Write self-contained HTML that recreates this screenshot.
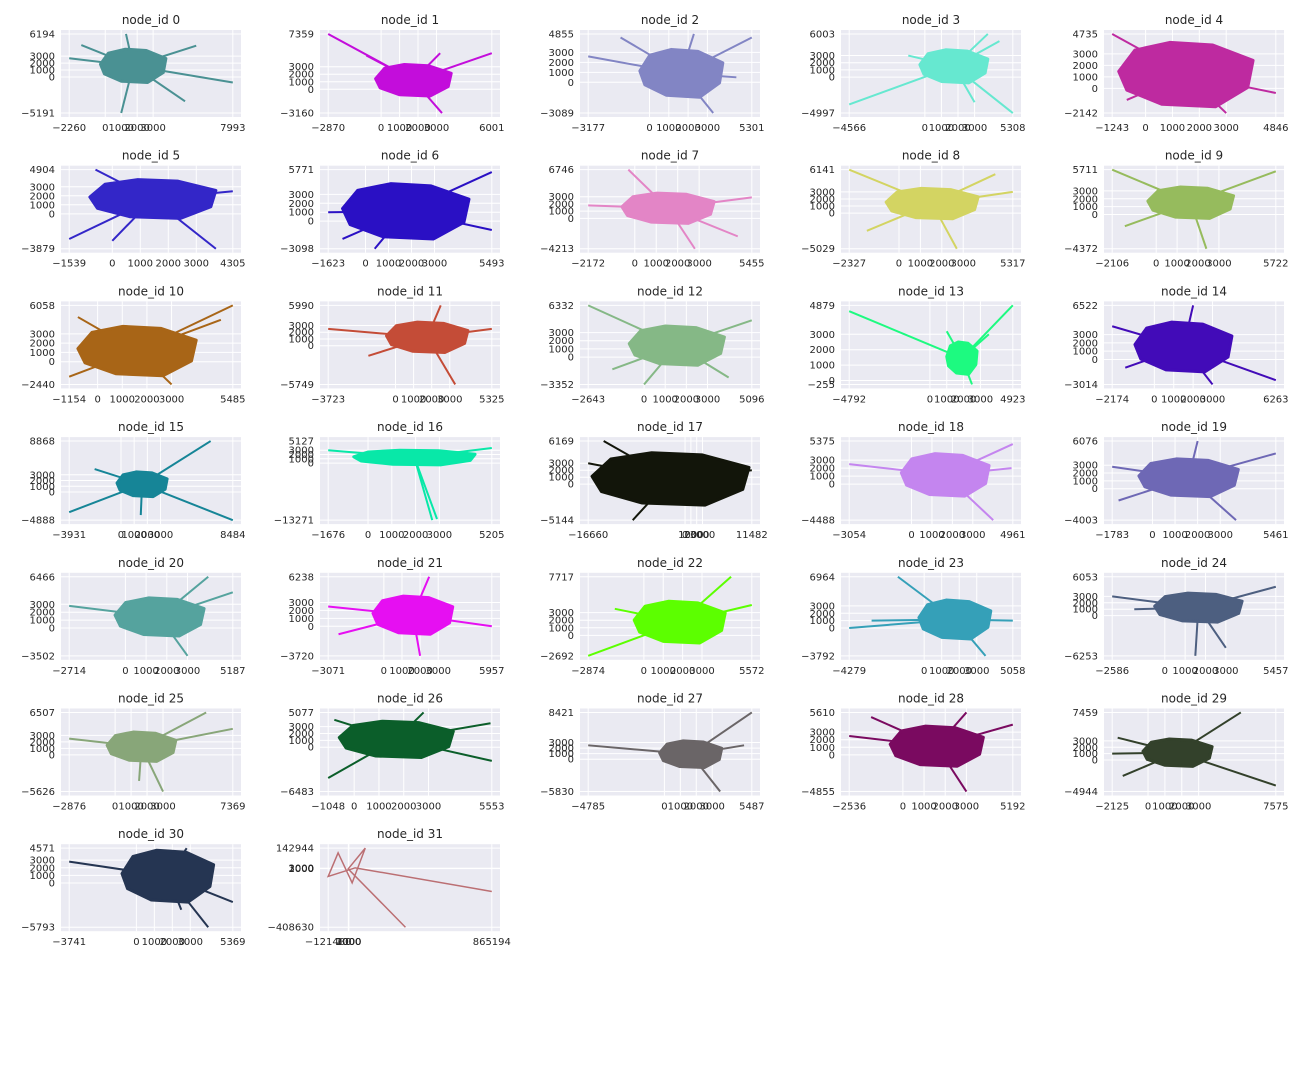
<!DOCTYPE html>
<html><head><meta charset="utf-8">
<style>
body{margin:0;background:#fff;width:1296px;height:1080px;overflow:hidden;font-family:"Liberation Sans","DejaVu Sans",sans-serif;}
svg text{font-family:"DejaVu Sans","Liberation Sans",sans-serif;fill:#262626;}
</style></head>
<body>
<svg id="fig" width="1296" height="1080" viewBox="0 0 1296 1080" xmlns="http://www.w3.org/2000/svg"></svg>
<script>
// ---- data arrays (top level) ----
const nodeIds = [0,1,2,3,4,5,6,7,8,9,10,11,12,13,14,15,16,17,18,19,20,21,22,23,24,25,26,27,28,29,30,31];
const xMins = [-2260,-2870,-3177,-4566,-1243,-1539,-1623,-2172,-2327,-2106,-1154,-3723,-2643,-4792,-2174,-3931,-1676,-16660,-3054,-1783,-2714,-3071,-2874,-4279,-2586,-2876,-1048,-4785,-2536,-2125,-3741,-121480];
const xMaxs = [7993,6001,5301,5308,4846,4305,5493,5455,5317,5722,5485,5325,5096,4923,6263,8484,5205,11482,4961,5461,5187,5957,5572,5058,5457,7369,5553,5487,5192,7575,5369,865194];
const yMins = [-5191,-3160,-3089,-4997,-2142,-3879,-3098,-4213,-5029,-4372,-2440,-5749,-3352,-255,-3014,-4888,-13271,-5144,-4488,-4003,-3502,-3720,-2692,-3792,-6253,-5626,-6483,-5830,-4855,-4944,-5793,-408630];
const yMaxs = [6194,7359,4855,6003,4735,4904,5771,6746,6141,5711,6058,5990,6332,4879,6522,8868,5127,6169,5375,6076,6466,6238,7717,6964,6053,6507,5077,8421,5610,7459,4571,142944];
const baseTicks = [0,1000,2000,3000];
// dense-core extent per node: [x0,x1,y0,y1]
const blobs = [
 [-300,3800,-800,4000],[-300,3800,-900,3300],[-500,3800,-1500,3300],[-300,3800,-800,3800],[-1000,4000,-1600,4000],
 [-800,3700,-500,3800],[-1000,4500,-2000,4200],[-600,3700,-700,3500],[-600,3700,-800,3500],[-400,3700,-500,3500],
 [-800,4000,-1500,3800],[-500,4000,-1000,3500],[-700,3800,-1000,3800],[1000,2800,400,2500],[-1000,4000,-1500,4500],
 [-300,3500,-800,3500],[-600,4500,-400,3000],[-16000,11000,-3000,4500],[-500,3800,-1500,3800],[-600,3800,-1000,3800],
 [-500,3800,-1000,3800],[-600,3800,-1000,3800],[-500,4200,-1000,4500],[-300,3800,-1500,3800],[-500,3800,-1000,3500],
 [-500,3800,-1000,3500],[-600,4000,-1500,3800],[-300,3600,-1500,3300],[-600,3800,-1500,3800],[-300,3800,-1000,3300],
 [-800,4300,-2500,4300],[0,0,0,0]
];
// outlier endpoints per node (x,y pairs), drawn from the core centre
const spikes = [
 [[-2260,2700],[7993,-800],[1000,-5191],[1300,6194],[5700,4500],[-1500,4600],[5000,-3500]],
 [[-2870,7359],[6001,4800],[3300,-3160],[-800,4500],[3200,4800]],
 [[-3177,2600],[5301,4500],[3300,-3089],[2300,4855],[-1500,4500],[4500,500]],
 [[-4566,-3800],[5308,-4997],[3800,6003],[-1000,3000],[4500,5000],[3000,-3500]],
 [[-1243,4735],[4846,-400],[3000,-2142],[-700,-1000]],
 [[-1539,-2800],[-600,4904],[4305,2500],[3700,-3879],[0,-3000]],
 [[-1623,1000],[5493,5500],[5493,-1000],[400,-3098],[-1000,-2000]],
 [[-2172,1800],[5455,2900],[-300,6746],[2800,-4213],[4800,-2500]],
 [[-2327,6141],[5317,3000],[2700,-5029],[-1500,-2500],[4500,5500]],
 [[-2106,5711],[5722,5500],[2400,-4372],[-1500,-1500]],
 [[-1154,-1600],[5485,6058],[3000,-2440],[-800,4800],[5000,4500]],
 [[-3723,2500],[5325,2500],[3300,-5749],[2500,5990],[-1500,-1500]],
 [[-2643,6332],[5096,4500],[0,-3352],[-1500,-1500],[4000,-2500]],
 [[-4792,4500],[4923,4879],[2500,-255],[3500,3000],[1000,3200]],
 [[-2174,4000],[6263,-2500],[2000,6522],[3000,-3014],[-1500,-1000]],
 [[-3931,-3500],[8484,-4888],[6800,8868],[1500,-4000],[-2000,4000]],
 [[-1676,3000],[5205,3500],[2700,-13271],[2900,-13000]],
 [[-16660,3000],[11482,2000],[-9000,-5144],[-14000,6169]],
 [[-3054,2500],[4961,5000],[4000,-4488],[4900,2000]],
 [[-1783,2800],[5461,4500],[3700,-4003],[-1500,-1500],[2000,6076]],
 [[-2714,2800],[5187,4500],[4000,6466],[3000,-3502]],
 [[-3071,2500],[5957,0],[2500,6238],[2000,-3720],[-2500,-1000]],
 [[-2874,-2692],[5572,4000],[4500,7717],[-1500,3500]],
 [[-4279,0],[-1500,6964],[5058,1000],[3500,-3792],[-3000,1000]],
 [[-2586,3000],[5457,4500],[1500,-6253],[3000,-5000],[-1500,1000]],
 [[-2876,2500],[7369,4000],[5700,6507],[3000,-5626],[1500,-4000]],
 [[-1048,-4500],[5553,-2000],[2800,5077],[5500,3500],[-800,4000]],
 [[-4785,2500],[5487,8421],[3500,-5830],[5000,2500]],
 [[-2536,2500],[5192,4000],[3000,-4855],[3000,5610],[-1500,5000]],
 [[-2125,1000],[7575,-4000],[5500,7459],[-1800,3500],[-1500,-2500]],
 [[-3741,2800],[5369,-2500],[2500,-3500],[4000,-5793],[2800,4571]],
 []
];
// node 31: sparse polyline
const sparseX = [865194,41300,-121480,-61700,23000,102000,-1100,344300];
const sparseY = [-159000,5700,-54200,110600,-99150,142944,-1700,-408630];
// ---- styles ----
const colors = ['#4a9193','#c30ddb','#8285c4','#66e8d0','#be2aa0','#3326c8','#2a10c4','#e385c6','#d3d462','#96bb5d','#a86517','#c44c37','#85b886','#1dfa80','#420bb8','#168597','#08e8a8','#12150a','#c485ef','#6e68b5','#55a39e','#e60ff2','#5cff00','#35a0b8','#4d5f80','#88a679','#0b5e2a','#6a6567','#7a0a60','#33412b','#253552','#bb6f73'];
const colLeft = [61,320,580,841,1104];
const AW = 180, AH = 87, ROW0 = 30, PITCH = 135.7;
const blobShape = [[0,0.55],[0.12,0.88],[0.38,1],[0.7,0.96],[1,0.72],[0.96,0.3],[0.72,0],[0.32,0.04],[0.06,0.26]];

const NS = 'http://www.w3.org/2000/svg';
const fig = document.getElementById('fig');
function mk(tag, attrs, parent){const e=document.createElementNS(NS,tag);for(const k in attrs)e.setAttribute(k,attrs[k]);(parent||fig).appendChild(e);return e;}

nodeIds.forEach((id,i)=>{
  const c = i%5, r = Math.floor(i/5);
  const L = colLeft[c], T = ROW0 + r*PITCH;
  const xr = xMaxs[i]-xMins[i], yr = yMaxs[i]-yMins[i];
  const x0 = xMins[i]-0.05*xr, x1 = xMaxs[i]+0.05*xr;
  const y0 = yMins[i]-0.05*yr, y1 = yMaxs[i]+0.05*yr;
  const sx = v => L + (v-x0)/(x1-x0)*AW;
  const sy = v => T + AH - (v-y0)/(y1-y0)*AH;
  const g = mk('g',{});
  
  
  const bg = mk('rect',{x:L,y:T,width:AW,height:AH,fill:'#eaeaf2'},g);
  
  
  const xt = [xMins[i],...baseTicks,xMaxs[i]];
  const yt = [yMins[i],...baseTicks,yMaxs[i]];
  xt.forEach(v=>{
    mk('line',{x1:sx(v),x2:sx(v),y1:T,y2:T+AH,stroke:'#fff','stroke-width':1},g);
    const t = mk('text',{x:sx(v),y:T+AH+14,'font-size':10,'text-anchor':'middle'},g);
    t.textContent = String(v).replace('-','\u2212');
    
    
  });
  yt.forEach(v=>{
    mk('line',{x1:L,x2:L+AW,y1:sy(v),y2:sy(v),stroke:'#fff','stroke-width':1},g);
    const t = mk('text',{x:L-6,y:sy(v)+3.5,'font-size':10,'text-anchor':'end'},g);
    t.textContent = String(v).replace('-','\u2212');
    
    
  });
  const clipId='cl'+i;
  const cp = mk('clipPath',{id:clipId},g);
  mk('rect',{x:L,y:T,width:AW,height:AH},cp);
  const pg = mk('g',{'clip-path':'url(#'+clipId+')'},g);
  const col = colors[i];
  if (id===31){
    const pts = sparseX.map((v,k)=>sx(v)+','+sy(sparseY[k])).join(' ');
    const pl = mk('polyline',{points:pts,fill:'none',stroke:col,'stroke-width':1.5},pg);
    
    
  } else {
    const b = blobs[i];
    const cx = (b[0]+b[1])/2, cy = (b[2]+b[3])/2;
    spikes[i].forEach(p=>{
      const ln = mk('line',{x1:sx(cx),y1:sy(cy),x2:sx(p[0]),y2:sy(p[1]),stroke:col,'stroke-width':2},pg);
      
      
    });
    const pts = blobShape.map(s=>sx(b[0]+s[0]*(b[1]-b[0]))+','+sy(b[2]+s[1]*(b[3]-b[2]))).join(' ');
    const poly = mk('polygon',{points:pts,fill:col,stroke:col,'stroke-width':3,'stroke-linejoin':'round'},pg);
    
    
  }
  const tt = mk('text',{x:L+AW/2,y:T-6,'font-size':12,'text-anchor':'middle'},g);
  tt.textContent = 'node_id '+id;
  
  
});
</script>
</body></html>
